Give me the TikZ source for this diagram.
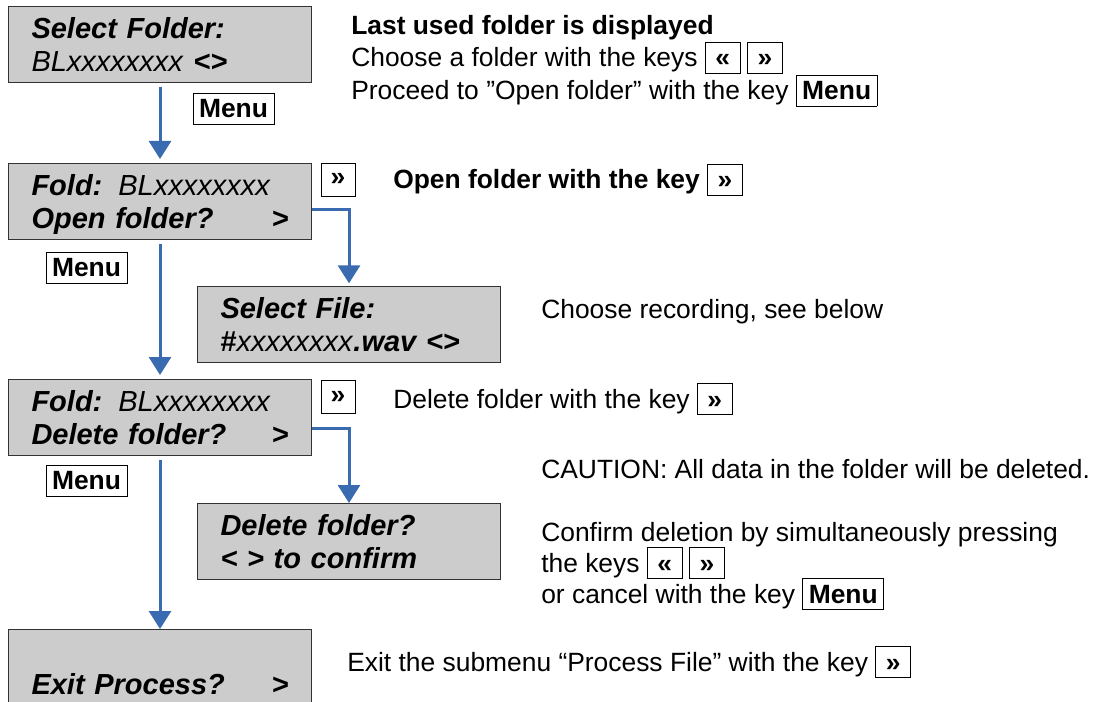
\documentclass[tikz,border=0pt]{standalone}
\usepackage{fontspec}
\setmainfont{Liberation Sans}
\usetikzlibrary{arrows.meta}

\definecolor{flowblue}{RGB}{58,106,176}
\newcommand{\infofont}{\fontsize{19.8pt}{24pt}\selectfont}
\newcommand{\lcdfont}{\fontsize{21.75pt}{24.75pt}\selectfont}
\newcommand{\lcdtop}{\rule{0pt}{20.75pt}}
\newcommand{\lcdbot}{\rule[-5pt]{0pt}{5pt}}
\newcommand{\lcdb}[1]{\textbf{\textit{#1}}}
\newcommand{\keycap}[2][25.5pt]{{\setlength{\fboxsep}{0pt}\setlength{\fboxrule}{0.6pt}%
  \fbox{\makebox[#1]{\rule[-4.5pt]{0pt}{23pt}\bfseries #2}}}}

\tikzset{
  lcd/.style={draw=black!80, fill=black!20, line width=0.75pt, anchor=north west,
    minimum width=227.25pt, minimum height=57pt, text width=192.75pt,
    inner xsep=17.25pt, inner ysep=0pt, align=left, font=\lcdfont},
  key/.style={draw, fill=white, line width=0.6pt, font=\infofont\bfseries,
    minimum width=25.5pt, minimum height=24.75pt, inner sep=0pt},
  info/.style={anchor=base west, inner sep=0pt, font=\infofont},
  flow/.style={draw=flowblue, line width=2.25pt, -{Triangle[length=13.5pt,width=16.5pt]}},
}

\begin{document}
\begin{tikzpicture}[x=0.75pt, y=-0.75pt]
  \useasboundingbox (0,0) rectangle (1102,702);

  % display states
  \node[lcd] (sel) at (8,6) {\lcdtop\lcdb{Select Folder:}\\\textit{BLxxxxxxxx} \lcdb{<>}\lcdbot};
  \node[lcd] (fold1) at (8,163) {\lcdtop\lcdb{Fold:}\hspace{12pt}\textit{BLxxxxxxxx}\\\lcdb{Open folder?}\hfill\lcdb{>}\lcdbot};
  \node[lcd] (file) at (197,286) {\lcdtop\lcdb{Select File:}\\\textbf{\#}\textit{xxxxxxxx}\lcdb{.wav <>}\lcdbot};
  \node[lcd] (fold2) at (8,379) {\lcdtop\lcdb{Fold:}\hspace{12pt}\textit{BLxxxxxxxx}\\\lcdb{Delete folder?}\hfill\lcdb{>}\lcdbot};
  \node[lcd] (del) at (197,503) {\lcdtop\lcdb{Delete folder?}\\\lcdb{< > to confirm}\lcdbot};
  \node[lcd] (exit) at (8,629) {\lcdtop\\\lcdb{Exit Process?}\hfill\lcdb{>}\lcdbot};

  % keys
  \node[key, minimum width=60.75pt, minimum height=23.25pt] (menuA) at (233.5,108.5) {Menu};
  \node[key] (nextA) at (338,179.5) {»};
  \node[key, minimum width=60.75pt, minimum height=23.25pt] (menuB) at (86.5,268) {Menu};
  \node[key] (nextB) at (338,397) {»};
  \node[key, minimum width=60.75pt, minimum height=23.25pt] (menuC) at (86.5,480.5) {Menu};

  % transitions
  \draw[flow, shorten <=3pt, shorten >=3pt] (sel) -- (fold1);
  \draw[flow, shorten <=3pt, shorten >=3pt] (fold1) -- (fold2);
  \draw[flow, shorten <=3pt] (fold2) -- (exit);
  \draw[flow, shorten >=2pt] ([yshift=-6pt]fold1.east) -| (file);
  \draw[flow] ([yshift=-8pt]fold2.east) -| (del);

  % explanations
  \node[info, font=\infofont\bfseries] (infoA) at (351,35) {Last used folder is displayed};
  \node[info] (infoB) at (351,67) {Choose a folder with the keys \keycap{«}\hspace{5pt}\keycap{»}};
  \node[info] (infoC) at (351,100) {Proceed to ”Open folder” with the key \keycap[60pt]{Menu}};
  \node[info, font=\infofont\bfseries] (openA) at (393,189) {Open folder with the key \keycap{»}};
  \node[info] (fileA) at (541,318) {Choose recording, see below};
  \node[info] (delA) at (393,408) {Delete folder with the key \keycap{»}};
  \node[info] (warn) at (541,478) {CAUTION: All data in the folder will be deleted.};
  \node[info] (confA) at (541,541) {Confirm deletion by simultaneously pressing};
  \node[info] (confB) at (541,572) {the keys \keycap{«}\hspace{5pt}\keycap{»}};
  \node[info] (confC) at (541,603) {or cancel with the key \keycap[60pt]{Menu}};
  \node[info] (exitA) at (347,671) {Exit the submenu “Process File” with the key \keycap{»}};
\end{tikzpicture}
\end{document}
